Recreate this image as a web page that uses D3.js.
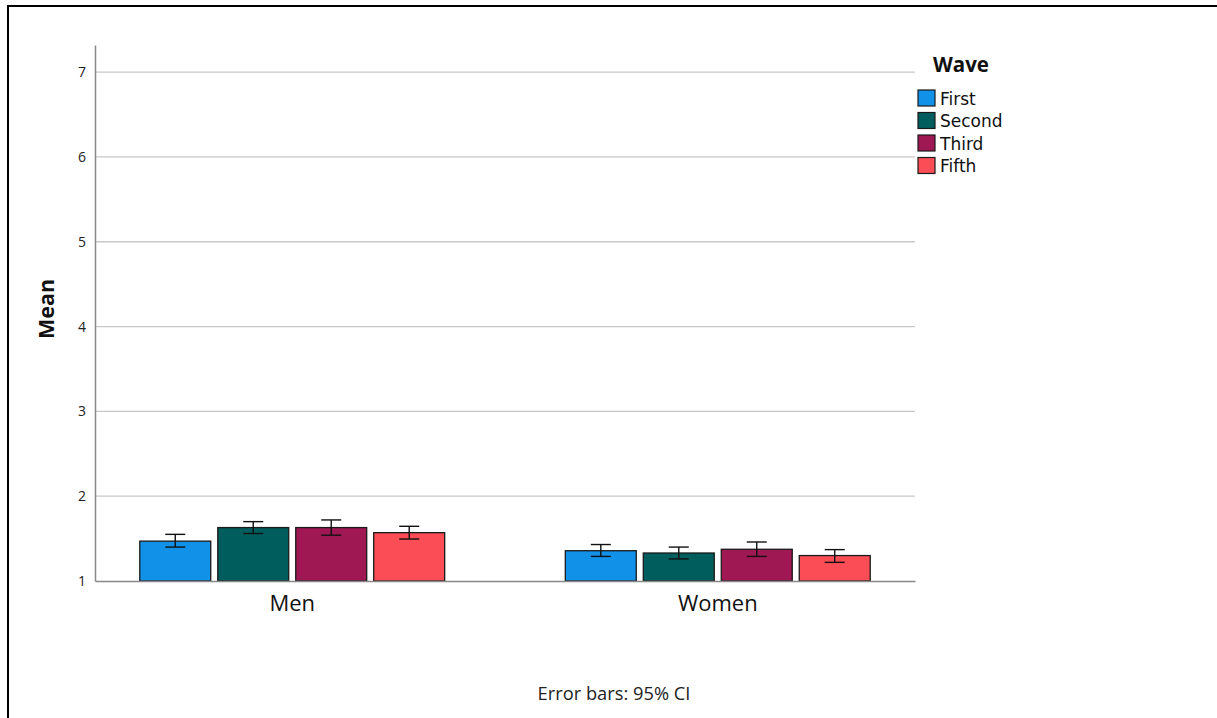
<!DOCTYPE html>
<html><head><meta charset="utf-8">
<script src="https://cdn.jsdelivr.net/npm/d3@7"></script>
<style>body{margin:0;background:#fff;font-family:"Open Sans","DejaVu Sans",sans-serif}</style>
</head><body>
<svg id="chart" width="1217" height="718"></svg>
<script>
const groups = ["Men", "Women"];
const waves = ["First", "Second", "Third", "Fifth"];
const colors = ["#1192e8", "#005d5d", "#9f1853", "#fa4d56"];
const menMeans = [1.47, 1.63, 1.63, 1.57];
const menLow = [1.40, 1.56, 1.54, 1.495];
const menHigh = [1.55, 1.70, 1.72, 1.645];
const womenMeans = [1.357, 1.33, 1.374, 1.30];
const womenLow = [1.29, 1.26, 1.29, 1.22];
const womenHigh = [1.43, 1.40, 1.46, 1.37];
const yTicks = [1, 2, 3, 4, 5, 6, 7];

(function () {
const means = [menMeans, womenMeans], lows = [menLow, womenLow], highs = [menHigh, womenHigh];
const data = [];
groups.forEach((g, gi) => waves.forEach((w, wi) => data.push({g, w, wi, v: means[gi][wi], lo: lows[gi][wi], hi: highs[gi][wi]})));

const svg = d3.select("#chart");
svg.append("rect").attr("x", 8).attr("y", 6).attr("width", 1230).attr("height", 740)
  .attr("fill", "none").attr("stroke", "#000").attr("stroke-width", 2);

const mLeft = 95, mRight = 915, mTop = 45, mBottom = 581;
const y = d3.scaleLinear().domain([1, 7.32]).range([mBottom, mTop]);
const x0 = d3.scaleBand().domain(groups).range([mLeft, mRight]).paddingInner(0.267).paddingOuter(0.097);
const x1 = d3.scaleBand().domain(waves).range([0, x0.bandwidth()]).paddingInner(0.09).paddingOuter(0.045);
const color = d3.scaleOrdinal().domain(waves).range(colors);

svg.append("g").selectAll("line").data(yTicks.filter(t => t > 1)).join("line")
  .attr("x1", mLeft).attr("x2", mRight).attr("y1", d => y(d)).attr("y2", d => y(d))
  .attr("stroke", "#c8c8c8").attr("stroke-width", 1.3);

const yAxis = svg.append("g").attr("transform", `translate(${mLeft},0)`)
  .call(d3.axisLeft(y).tickValues(yTicks).tickSize(0).tickPadding(9).tickFormat(d3.format("d")));
yAxis.select(".domain").attr("stroke", "#888").attr("stroke-width", 1.5);
yAxis.selectAll("text").attr("font-size", 14).attr("fill", "#222").attr("font-family", "Open Sans, sans-serif");

svg.append("g").selectAll("rect").data(data).join("rect")
  .attr("x", d => x0(d.g) + x1(d.w)).attr("width", x1.bandwidth())
  .attr("y", d => y(d.v)).attr("height", d => y(1) - y(d.v))
  .attr("fill", d => color(d.w)).attr("stroke", "#1a1a1a").attr("stroke-width", 1.3);

const xAxis = svg.append("g").attr("transform", `translate(0,${mBottom})`)
  .call(d3.axisBottom(x0).tickSize(0).tickPadding(0));
xAxis.select(".domain").attr("stroke", "#888").attr("stroke-width", 1.5);
xAxis.selectAll("text").attr("dy", null).attr("y", 30).attr("font-size", 22).attr("fill", "#111").attr("font-family", "Open Sans, sans-serif");

const eb = svg.append("g").attr("stroke", "#111").attr("stroke-width", 1.4);
const cx = d => x0(d.g) + x1(d.w) + x1.bandwidth() / 2;
eb.selectAll(".v").data(data).join("line").attr("class", "v").attr("x1", cx).attr("x2", cx).attr("y1", d => y(d.lo)).attr("y2", d => y(d.hi));
eb.selectAll(".t").data(data).join("line").attr("class", "t").attr("x1", d => cx(d) - 10).attr("x2", d => cx(d) + 10).attr("y1", d => y(d.hi)).attr("y2", d => y(d.hi));
eb.selectAll(".b").data(data).join("line").attr("class", "b").attr("x1", d => cx(d) - 10).attr("x2", d => cx(d) + 10).attr("y1", d => y(d.lo)).attr("y2", d => y(d.lo));

svg.append("text").attr("transform", "translate(54,309) rotate(-90)").attr("text-anchor", "middle")
  .attr("font-size", 21.5).attr("font-weight", "bold").attr("fill", "#111").text("Mean");

const lg = svg.append("g");
lg.append("text").attr("x", 933).attr("y", 72).attr("font-size", 20.5).attr("font-weight", "bold").attr("fill", "#111").text("Wave");
const items = lg.selectAll("g").data(waves).join("g").attr("transform", (d, i) => `translate(918,${90 + i * 22.5})`);
items.append("rect").attr("width", 17).attr("height", 16).attr("fill", d => color(d)).attr("stroke", "#1a1a1a").attr("stroke-width", 1.2);
items.append("text").attr("x", 22).attr("y", 14.5).attr("font-size", 17).attr("font-family", "DejaVu Sans, sans-serif").attr("fill", "#111").text(d => d);

svg.append("text").attr("x", 614).attr("y", 700).attr("text-anchor", "middle").attr("font-size", 18.3).attr("fill", "#222").text("Error bars: 95% CI");
})();
</script>
</body></html>
